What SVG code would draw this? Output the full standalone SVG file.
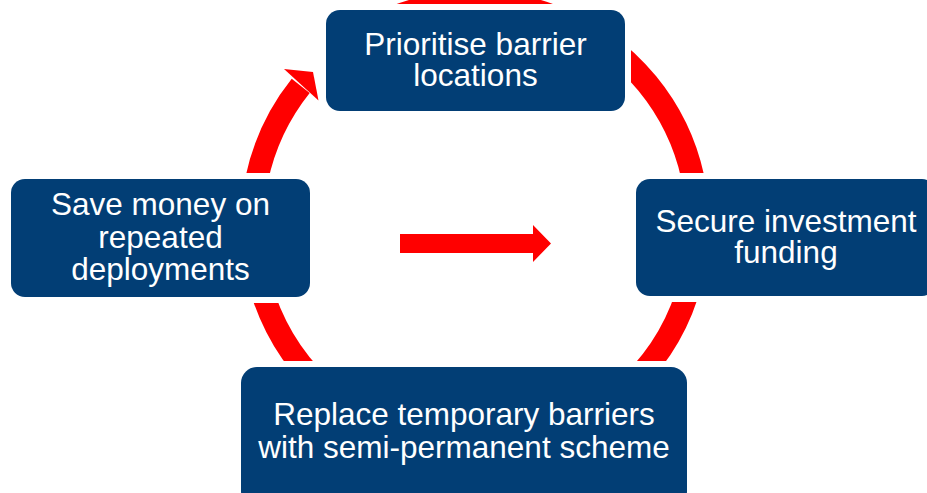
<svg xmlns="http://www.w3.org/2000/svg" width="927" height="493" viewBox="0 0 927 493">
<style>
.box{fill:#023e75;stroke:#ffffff;stroke-width:12;paint-order:stroke}
.lbl{fill:#ffffff;font-family:"Liberation Sans",Arial,sans-serif;font-size:31.5px;text-anchor:middle}
.ring{fill:none;stroke:#ff0000;stroke-width:23}
.red{fill:#ff0000}
</style>
<rect width="927" height="493" fill="#ffffff"/>
<g id="connectors">
<path class="ring" d="M300.7,85.9 A223,223 0 1 0 337.7,49.3"/>
<polygon class="red" points="284,69 313,72 318.5,100.5"/>
<polygon class="red" points="400,234 533,234 533,225 551,243.5 533,262 533,253 400,253"/>
</g>
<g id="node-prioritise">
<rect class="box" x="326" y="10" width="299" height="101" rx="14"/>
<text class="lbl" x="475.5" y="55">Prioritise barrier</text>
<text class="lbl" x="475.5" y="86">locations</text>
</g>
<g id="node-secure">
<rect class="box" x="636" y="179" width="300" height="117" rx="14"/>
<text class="lbl" x="786" y="232">Secure investment</text>
<text class="lbl" x="786" y="263">funding</text>
</g>
<g id="node-replace">
<rect class="box" x="241" y="367" width="446" height="140" rx="16"/>
<text class="lbl" x="464" y="425">Replace temporary barriers</text>
<text class="lbl" x="464" y="458">with semi-permanent scheme</text>
</g>
<g id="node-save">
<rect class="box" x="11" y="179" width="299" height="118" rx="14"/>
<text class="lbl" x="160.5" y="215">Save money on</text>
<text class="lbl" x="160.5" y="247.5">repeated</text>
<text class="lbl" x="160.5" y="280">deployments</text>
</g>
</svg>
